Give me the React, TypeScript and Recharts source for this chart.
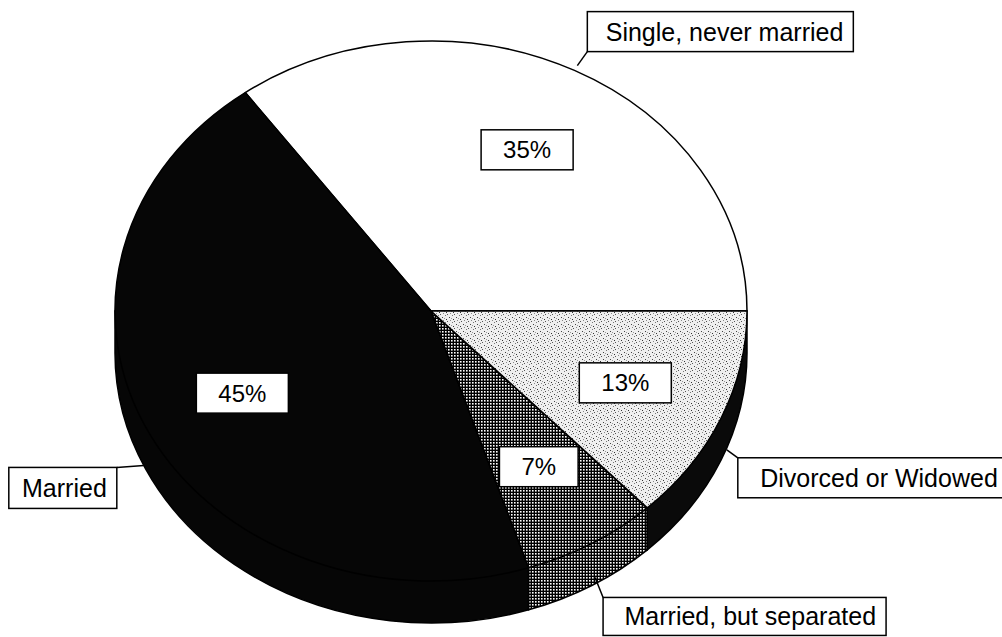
import { PieChart, Pie, Cell } from 'recharts'

const categories = ['Single, never married', 'Married', 'Married, but separated', 'Divorced or Widowed']
const shares = [35, 45, 7, 13]

const data = categories.map((name, i) => ({ name, value: shares[i] }))

// pie is drawn as a tilted disc: vertical squash and side-wall height
const TILT = 270 / 316
const DEPTH = 42
const RAD = Math.PI / 180
const FONT = '"Liberation Sans", Arial, Helvetica, sans-serif'

const TOP_FILLS = ['#ffffff', '#060606', 'url(#checker)', 'url(#stipple)']
const SIDE_FILLS = ['#ffffff', '#060606', 'url(#checker)', '#0a0a0a']

// name boxes, placed against the end of each leader line
const NAME_BOXES = [
  { lx: 10, ly: -14, corner: 'bl', w: 266, h: 40 },
  { lx: -27, ly: 2, corner: 'tr', w: 108, h: 41 },
  { lx: 8, ly: 20, corner: 'tl', w: 283, h: 38 },
  { lx: 11, ly: 8, corner: 'tl', w: 270, h: 40 },
]

function pt(cx: number, cy: number, rx: number, ry: number, deg: number) {
  return [cx + rx * Math.cos(deg * RAD), cy - ry * Math.sin(deg * RAD)]
}

function idxOf(props: any) {
  const name = props.payload?.name ?? props.name
  return categories.indexOf(name)
}

function EllipseSlice(props: any) {
  const { cx, cy, outerRadius, startAngle, endAngle, fill } = props
  const i = idxOf(props)
  const rx = outerRadius
  const ry = outerRadius * TILT
  const a1 = Math.min(startAngle, endAngle)
  const a2 = Math.max(startAngle, endAngle)
  const [x1, y1] = pt(cx, cy, rx, ry, a1)
  const [x2, y2] = pt(cx, cy, rx, ry, a2)
  const large = a2 - a1 > 180 ? 1 : 0
  const top = `M${cx},${cy} L${x1},${y1} A${rx},${ry} 0 ${large} 0 ${x2},${y2} Z`

  // side wall on the front (lower) half; it starts at the centre so no seam shows under the top face
  let side: string | null = null
  const b1 = Math.max(a1, 180)
  const b2 = Math.min(a2, 360)
  if (b2 > b1) {
    const [s1x, s1y] = pt(cx, cy, rx, ry, b1)
    const [s2x, s2y] = pt(cx, cy, rx, ry, b2)
    const l = b2 - b1 > 180 ? 1 : 0
    side = `M${cx},${cy} L${s1x},${s1y} L${s1x},${s1y + DEPTH} A${rx},${ry} 0 ${l} 0 ${s2x},${s2y + DEPTH} L${s2x},${s2y} Z`
  }

  return (
    <g>
      {side && <path d={side} fill={SIDE_FILLS[i]} stroke="#000" strokeWidth={1.5} />}
      <path d={top} fill={fill} stroke="#000" strokeWidth={1.5} strokeLinejoin="round" />
    </g>
  )
}

function renderLabels(props: any) {
  const { cx, cy, midAngle, outerRadius, value } = props
  const i = idxOf(props)
  const rx = outerRadius
  const ry = outerRadius * TILT
  const cos = Math.cos(midAngle * RAD)
  const sin = Math.sin(midAngle * RAD)

  // percentage box inside the slice
  const px = cx + rx * 0.67 * cos
  const py = cy - ry * 0.67 * sin
  const pctText = `${value}%`
  const digits = String(value).length
  const pw = 44 + 24 * (0.556 * digits + 0.889)
  const ph = 40

  // leader anchor on the rim, then the name box
  const ax = cx + rx * 1.02 * cos
  const ay = cy - ry * 1.02 * sin + (sin < 0 ? DEPTH * 0.7 : 0)
  const box = NAME_BOXES[i]
  const ex = ax + box.lx
  const ey = ay + box.ly
  const bx = box.corner === 'tr' ? ex - box.w : ex
  const by = box.corner === 'bl' ? ey - box.h : ey

  return (
    <g key={`lbl-${i}`}>
      <rect x={px - pw / 2} y={py - ph / 2} width={pw} height={ph} fill="#fff" stroke="#000" strokeWidth={1.5} />
      <text x={px} y={py + 8.5} textAnchor="middle" fontFamily={FONT} fontSize={24} fill="#000">
        {pctText}
      </text>
      <line x1={ax} y1={ay} x2={ex} y2={ey} stroke="#000" strokeWidth={1.5} />
      <rect x={bx} y={by} width={box.w} height={box.h} fill="#fff" stroke="#000" strokeWidth={1.5} />
      <text x={bx + box.w - 10} y={by + box.h / 2 + 9} textAnchor="end" fontFamily={FONT} fontSize={25} fill="#000">
        {categories[i]}
      </text>
    </g>
  )
}

export default function App() {
  return (
    <div style={{ position: 'absolute', left: 0, top: 0, width: 1002, height: 637, background: '#fff' }}>
      <PieChart width={1002} height={637} margin={{ top: 0, right: 0, bottom: 0, left: 0 }}>
        <defs>
          <pattern id="checker" width="3" height="3" patternUnits="userSpaceOnUse">
            <rect width="3" height="3" fill="#000" />
            <rect x="1" y="1" width="1.6" height="1.6" fill="#fff" />
          </pattern>
          <pattern id="stipple" width="7" height="7" patternUnits="userSpaceOnUse">
            <rect width="7" height="7" fill="#efefef" />
            <rect x="1" y="2" width="1" height="1" fill="#444" />
            <rect x="4" y="0" width="1" height="1" fill="#777" />
            <rect x="5" y="4" width="1" height="1" fill="#333" />
            <rect x="2" y="5" width="1" height="1" fill="#888" />
            <rect x="6" y="6" width="1" height="1" fill="#555" />
            <rect x="3" y="3" width="1" height="1" fill="#999" />
          </pattern>
        </defs>
        <Pie
          data={data}
          dataKey="value"
          nameKey="name"
          cx={431}
          cy={311}
          outerRadius={316}
          startAngle={0}
          endAngle={360}
          isAnimationActive={false}
          labelLine={false}
          label={renderLabels}
          shape={EllipseSlice}
          stroke="#000"
        >
          {data.map((d, i) => (
            <Cell key={d.name} fill={TOP_FILLS[i]} />
          ))}
        </Pie>
      </PieChart>
    </div>
  )
}
